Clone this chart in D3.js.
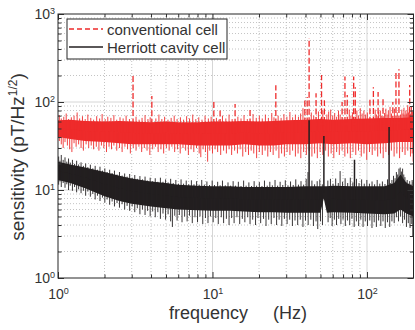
<!DOCTYPE html>
<html>
<head>
<meta charset="utf-8">
<script src="https://cdn.jsdelivr.net/npm/d3@7"></script>
<style>
  body { margin: 0; background: #fff; }
  svg { display: block; }
</style>
</head>
<body>
<svg id="chart" width="415" height="330"></svg>
<script>
"use strict";

// tick values
const xMajor = [1, 10, 100];
const xMinor = [2, 3, 4, 5, 6, 7, 8, 9, 20, 30, 40, 50, 60, 70, 80, 90];
const yMajor = [1, 10, 100, 1000];
const yMinor = [2, 3, 4, 5, 6, 7, 8, 9, 20, 30, 40, 50, 60, 70, 80, 90, 200, 300, 400, 500, 600, 700, 800, 900];

const seriesNames = ["conventional cell", "Herriott cavity cell"];

// conventional cell: dense band
const redFreq = [1, 1.2, 1.5, 2, 2.5, 3, 4, 5, 6, 8, 10, 13, 16, 20, 25, 30, 40, 50, 60, 80, 100, 130, 160, 200];
const redHigh = [62, 63, 61, 60, 61, 60, 59, 60, 59, 59, 60, 60, 61, 60, 61, 62, 63, 64, 63, 64, 65, 66, 66, 67];
const redLow = [40, 38, 36, 35, 34, 33, 33, 33, 33, 32, 32, 32, 33, 32, 32, 33, 33, 34, 33, 34, 33, 34, 35, 35];

// conventional cell: noise excursions [Hz, pT/Hz^1/2]
const redUp = [[1.02,71],[1.05,65],[1.09,68],[1.13,74],[1.17,64],[1.22,67],[1.27,70],[1.33,76],[1.38,65],[1.44,69],
  [1.5,64],[1.56,72],[1.63,66],[1.7,63],[1.78,69],[1.86,65],[1.93,73],[2.02,64],[2.1,68],[2.2,66],[2.3,71],[2.4,63],
  [2.52,67],[2.64,65],[2.76,70],[2.9,64],[3.2,68],[3.35,63],[3.5,66],[3.66,71],[3.82,64],[3.95,67],[4.3,65],[4.5,72],
  [4.7,64],[4.9,68],[5.15,63],[5.4,66],[5.65,70],[5.9,64],[6.2,67],[6.5,63],[6.8,69],[7.1,65],[7.45,72],[7.8,64],
  [8.15,67],[8.55,63],[8.95,70],[9.4,65],[9.8,68],[10.6,66],[11,63],[11.6,70],[12.2,65],[12.8,72],[13.4,64],[14.6,68],
  [15.3,65],[16,71],[16.8,64],[18.3,73],[19.2,66],[20.1,70],[21,65],[22,72],[23,66],[24.2,75],[25,67],[26.6,70],
  [27.8,66],[29,73],[30.3,68],[31.7,77],[33,67],[34.4,72],[36,68],[37.2,74],[38.5,85],[43.6,76],[45.2,70],[48.5,78],
  [51.8,80],[55,72],[56.5,78],[58.2,82],[60,70],[61.8,75],[63.6,68],[65.4,80],[67,72],[76.8,82],[78.7,70],[80.5,76],
  [86,80],[88,70],[90.5,85],[93,74],[95.5,80],[98,72],[100.5,76],[113,82],[115.5,72],[119,78],[122,80],[124.5,70],
  [130,75],[132.5,84],[135,72],[137.5,80],[141,88],[144,74],[150.5,84],[157,76],[165,72],[168,82],[171,74],[173.5,86],
  [176,72],[178.5,80],[181,74],[183.5,92],[186,76],[188,84],[191,74],[194,88],[197,78]];
const redDown = [[1.02,36],[1.05,33],[1.08,30],[1.11,35],[1.15,32],[1.19,29],[1.23,27],[1.27,34],[1.31,31],[1.36,33],
  [1.41,30],[1.46,28],[1.52,33],[1.58,30],[1.64,32],[1.7,29],[1.77,31],[1.84,28],[1.91,32],[1.98,30],[2.06,27],[2.14,31],
  [2.22,29],[2.3,32],[2.4,28],[2.5,30],[2.6,27],[2.71,31],[2.82,29],[2.94,26],[3.07,30],[3.2,28],[3.34,31],[3.48,27],
  [3.62,30],[3.77,28],[3.93,25],[4.1,29],[4.27,31],[4.45,27],[4.64,29],[4.83,26],[5.03,30],[5.24,28],[5.46,31],[5.69,27],
  [5.93,29],[6.18,26],[6.44,30],[6.7,28],[6.98,25],[7.27,29],[7.57,27],[7.88,30],[8.2,26],[8.4,23.6],[8.7,29],[9,27],
  [9.3,21],[9.6,28],[10,26],[10.4,29],[10.8,27],[11.3,25],[11.8,28],[12.3,26],[12.8,29],[13.3,25],[13.9,28],[14.5,26],
  [15.1,29],[15.7,24],[16.4,27],[17.1,25],[17.8,28],[18.5,26],[19.3,23],[20.1,27],[21,25],[21.9,28],[22.8,24],[23.7,27],
  [24.7,25],[25.8,28],[26.9,23],[28,26],[29.2,24],[30.4,27],[31.7,25],[33,28],[34.4,24],[35.8,26],[37.3,23],[38.9,27],
  [40.5,25],[42.2,28],[44,24],[45.8,26],[47.7,23],[49.7,27],[51.8,25],[54,28],[56.2,24],[58.6,26],[61,23],[63.6,27],
  [66.2,25],[69,28],[71.9,24],[74.9,26],[78,23],[81.2,27],[84.6,25],[88.1,28],[91.8,24],[95.6,26],[99.6,22],[103.8,27],
  [108.1,25],[112.6,28],[117.3,24],[122.2,26],[127.3,23],[132.6,27],[138.1,25],[143.8,28],[149.8,24],[156,26],[162.5,23],
  [169.3,27],[176.3,25],[183.6,28],[191.2,24],[196,26],[199,21]];
// conventional cell: tall lines
const redPeaks = [[3.06,203],[4.05,117],[10.2,100],[11.2,81],[14,95],[17.5,81],[25.7,155],[39.6,110],[41,114],
  [42.2,533],[46.8,126],[50.8,203],[53,105],[69,100],[72,195],[74.5,120],[82,195],[84,147],[104.5,110],[110,147],
  [118,130],[127,114],[147,100],[154,218],[161,235],[189,156]];

// Herriott cavity cell: dense band
const blackFreq = [1, 1.2, 1.5, 2, 2.5, 3, 4, 5, 6, 8, 10, 13, 16, 20, 25, 30, 40, 50, 52.5, 55, 60, 80, 100, 130, 150, 165, 180, 200];
const blackHigh = [21, 19.5, 18, 16, 14.5, 13.5, 12.5, 12, 11.5, 11.2, 11, 11, 10.8, 10.8, 10.8, 10.8, 11, 11, 11, 11, 11.2, 11, 11, 11, 12, 15, 12, 11];
const blackLow = [13, 12, 10.5, 8.5, 7.5, 7, 6.5, 6.2, 6, 5.9, 5.8, 5.8, 5.7, 5.6, 5.6, 5.5, 5.5, 5.5, 8, 5.5, 5.6, 5.5, 5.4, 5.3, 5.4, 6, 5.4, 5];

const blackUp = [[1.01,24],[1.03,21.5],[1.05,25],[1.08,22],[1.11,23.5],[1.14,21],[1.17,22.8],[1.2,20.5],[1.24,22],
  [1.28,19.8],[1.32,21.5],[1.36,19.5],[1.41,20.6],[1.46,18.8],[1.51,20],[1.56,18.2],[1.62,19.4],[1.68,17.6],[1.74,18.8],
  [1.8,17],[1.87,18.4],[1.94,16.6],[2.01,17.6],[2.08,16],[2.16,17],[2.24,15.6],[2.32,16.6],[2.41,15],[2.5,16],[2.6,14.6],
  [2.7,15.4],[2.8,14.2],[2.91,15.2],[3.02,13.8],[3.14,14.8],[3.26,13.4],[3.39,14.4],[3.52,13.2],[3.66,14.2],[3.8,12.8],
  [3.95,13.8],[4.1,12.6],[4.26,13.6],[4.43,12.4],[4.6,13.8],[4.78,12.4],[4.97,13.2],[5.16,12.2],[5.36,13.4],[5.57,12],
  [5.79,13],[6.02,11.8],[6.26,13.2],[6.5,11.8],[6.76,12.8],[7.02,11.6],[7.3,12.9],[7.59,11.6],[7.89,12.6],[8.2,11.5],
  [8.52,13],[8.86,11.5],[9.2,12.5],[9.57,11.4],[9.95,12.8],[10.3,11.4],[10.8,12.4],[11.2,11.3],[11.6,12.8],[12.1,11.3],
  [12.6,12.2],[13.1,11.2],[13.6,12.6],[14.1,11.2],[14.7,12.4],[15.3,11.1],[15.9,12.8],[16.5,11.2],[17.2,12.2],[17.9,11.1],
  [18.6,12.6],[19.3,11.2],[20.1,12.3],[20.9,11.1],[21.7,12.8],[22.6,11.2],[23.5,12.4],[24.4,11.3],[25.4,13],[26.4,11.2],
  [27.4,12.4],[28.5,11.4],[29.6,12.9],[30.8,11.3],[32,12.5],[33.3,11.4],[34.6,13.2],[36,11.5],[37.4,12.6],[38.9,11.5],
  [40.4,13.4],[41.5,16],[44,12.8],[45.8,11.6],[47.6,12.6],[49.5,13.2],[51.4,11.6],[55.8,12.8],[58,13.4],[60.3,11.8],
  [62.7,13.5],[65.2,12],[67,16.4],[69.5,12.4],[72.2,13.6],[75,12],[78,13.8],[81,12.2],[85.5,13.4],[88.8,12],[92.3,13.2],
  [96,11.8],[99.8,13],[103.7,11.8],[107.8,12.5],[112,11.6],[116.4,13],[121,11.8],[125.8,12.5],[130.7,11.7],[135.8,13.2],
  [141.5,12],[145,13],[148.5,14.5],[152,13.6],[155,16],[158,15],[161,17.5],[164,18],[167,16.2],[170,17.5],[173,15],
  [176,14],[179,12.4],[182,13],[185.5,11.8],[189,12.6],[192.5,11.6],[196,13],[199,12.4]];
const blackDown = [[1.01,11.5],[1.03,12.5],[1.05,10.8],[1.08,12],[1.11,10.6],[1.14,11.6],[1.17,10],[1.2,11.2],[1.24,9.8],
  [1.28,10.8],[1.32,9.4],[1.36,10.2],[1.41,9.2],[1.46,9.8],[1.51,8.6],[1.56,9.6],[1.62,8.4],[1.68,9],[1.74,7.8],[1.8,8.6],
  [1.87,7.5],[1.94,8.2],[2.01,7.2],[2.08,7.8],[2.16,6.8],[2.24,7.4],[2.32,6.5],[2.41,7.1],[2.5,6.3],[2.6,6.9],[2.7,6],
  [2.8,6.6],[2.91,5.8],[3.02,6.5],[3.14,5.6],[3.26,6.2],[3.39,5.3],[3.52,6],[3.66,5.2],[3.8,5.8],[3.95,5],[4.1,5.7],
  [4.26,4.9],[4.43,5.6],[4.6,4.7],[4.78,5.4],[4.97,4.6],[5.16,5.3],[5.36,4.4],[5.5,3.8],[5.7,5.1],[5.9,4.5],[6.1,5.2],
  [6.35,4.3],[6.6,5],[6.85,4.4],[7.1,5.1],[7.4,4.2],[7.7,4.9],[8,4.3],[8.3,5],[8.65,4.1],[9,4.8],[9.35,4.2],[9.7,5],
  [10.1,4.3],[10.5,4.8],[10.9,4.1],[11.4,4.9],[11.8,4.2],[12.3,4.7],[12.8,4],[13.3,4.8],[13.8,4.2],[14.4,4.9],[15,4.1],
  [15.6,4.7],[16.2,4.3],[16.9,4.9],[17.5,4.1],[18.2,4.6],[19,4],[19.7,4.8],[20.5,4.2],[21.4,4.7],[22.2,3.9],[23.1,4.6],
  [24,4.1],[25,4.8],[26,4],[27,4.6],[28.1,3.9],[29.2,4.7],[30.4,4.1],[31.6,4.6],[32.9,3.9],[34.2,4.5],[35.6,4],[37,4.6],
  [38.5,3.8],[40,4.5],[41.6,4],[43.3,4.6],[45,3.9],[46.8,4.4],[48,3.6],[50,4.4],[51.5,4],[56,4.3],[57.8,4.8],[59.5,3.9],
  [61.5,4.6],[63.5,4],[65.6,4.7],[67.8,4.1],[70,4.6],[72.4,3.9],[74.8,4.5],[77.3,4],[79.9,4.7],[82.6,3.8],[85.4,4.4],
  [88.3,3.9],[91.2,4.6],[94.3,3.8],[97.5,4.4],[100.8,3.9],[104.2,4.5],[107.7,3.7],[111.3,4.3],[115,3.8],[118.9,4.5],
  [122.9,3.9],[127,4.4],[131.3,3.7],[135.7,4.3],[140.3,3.8],[145,4.4],[150,4.2],[155,4.9],[160,4.4],[165,5],[170,4.2],
  [175,4.6],[180,3.8],[185,4.2],[190,3.7],[195,4.1],[198,3.0]];
const blackPeaks = [[42.2,62],[52.6,41],[83,22],[139,52]];

const FONT = "'Liberation Sans', Arial, Helvetica, sans-serif";
const TEXT = "#333";
const RED = "#ee2b2b";
const BLACK = "#231f20";

const svg = d3.select("#chart").attr("font-family", FONT);

const x = d3.scaleLog().domain([1, 200]).range([58, 413.5]);
const y = d3.scaleLog().domain([1, 1000]).range([278, 14]);
const [x0, x1] = x.range();
const [y0, y1] = y.range();

// grid
const grid = svg.append("g");
grid.selectAll(".gx").data(xMinor).join("line")
  .attr("x1", x).attr("x2", x).attr("y1", y0).attr("y2", y1)
  .attr("stroke", "#b5b5b5").attr("stroke-width", 0.8).attr("stroke-dasharray", "1,2");
grid.selectAll(".gy").data(yMinor).join("line")
  .attr("y1", y).attr("y2", y).attr("x1", x0).attr("x2", x1)
  .attr("stroke", "#b5b5b5").attr("stroke-width", 0.8).attr("stroke-dasharray", "1,2");
grid.selectAll(".gX").data(xMajor.slice(1)).join("line")
  .attr("x1", x).attr("x2", x).attr("y1", y0).attr("y2", y1)
  .attr("stroke", "#d6d6d6").attr("stroke-width", 1);
grid.selectAll(".gY").data(yMajor.slice(1, 3)).join("line")
  .attr("y1", y).attr("y2", y).attr("x1", x0).attr("x2", x1)
  .attr("stroke", "#d6d6d6").attr("stroke-width", 1);

svg.append("clipPath").attr("id", "plot")
  .append("rect").attr("x", x0).attr("y", y1).attr("width", x1 - x0).attr("height", y0 - y1);

const drawSeries = (freq, high, low, up, down, peaks, color, dashed, peakWidth) => {
  const g = svg.append("g").attr("clip-path", "url(#plot)");
  const band = freq.map((f, i) => ({ f, hi: high[i], lo: low[i] }));
  const mid = d3.scaleLog().domain(freq).range(freq.map((f, i) => Math.sqrt(high[i] * low[i])));

  g.append("path")
    .datum(band)
    .attr("fill", color)
    .attr("d", d3.area().x((d) => x(d.f)).y0((d) => y(d.lo)).y1((d) => y(d.hi)));

  g.selectAll(".noise").data(up.concat(down)).join("line")
    .attr("x1", (d) => x(d[0])).attr("x2", (d) => x(d[0]))
    .attr("y1", (d) => y(mid(d[0]))).attr("y2", (d) => y(d[1]))
    .attr("stroke", color).attr("stroke-width", 0.9);

  g.selectAll(".peak").data(peaks).join("line")
    .attr("x1", (d) => x(d[0])).attr("x2", (d) => x(d[0]))
    .attr("y1", (d) => y(mid(d[0]))).attr("y2", (d) => y(d[1]))
    .attr("stroke", color).attr("stroke-width", peakWidth)
    .attr("stroke-dasharray", dashed ? "6,2.5" : null);
};

drawSeries(redFreq, redHigh, redLow, redUp, redDown, redPeaks, RED, true, 1.3);
drawSeries(blackFreq, blackHigh, blackLow, blackUp, blackDown, blackPeaks, BLACK, false, 1.5);

// axes (ticks inside on all four sides)
const supLabel = (sel) => {
  sel.selectAll(".tick text").text(null).each(function (d) {
    const t = d3.select(this);
    t.append("tspan").text("10");
    t.append("tspan").attr("font-size", 9).attr("dy", "-0.6em").text(Math.round(Math.log10(d)));
  });
};

const axisGroup = (axis, transform) => {
  const g = svg.append("g").attr("transform", transform).call(axis)
    .attr("font-family", FONT).attr("font-size", 14).attr("color", TEXT);
  g.select(".domain").remove();
  return g;
};

axisGroup(d3.axisBottom(x).tickValues(xMinor).tickSize(-3.5).tickFormat(""), `translate(0,${y0})`);
axisGroup(d3.axisTop(x).tickValues(xMinor).tickSize(-3.5).tickFormat(""), `translate(0,${y1})`);
axisGroup(d3.axisLeft(y).tickValues(yMinor).tickSize(-3.5).tickFormat(""), `translate(${x0},0)`);
axisGroup(d3.axisRight(y).tickValues(yMinor).tickSize(-3.5).tickFormat(""), `translate(${x1},0)`);

axisGroup(d3.axisBottom(x).tickValues(xMajor).tickSize(-6).tickPadding(11), `translate(0,${y0})`).call(supLabel);
axisGroup(d3.axisTop(x).tickValues(xMajor).tickSize(-6).tickFormat(""), `translate(0,${y1})`);
axisGroup(d3.axisLeft(y).tickValues(yMajor).tickSize(-6).tickPadding(3), `translate(${x0},0)`).call(supLabel);
axisGroup(d3.axisRight(y).tickValues(yMajor).tickSize(-6).tickFormat(""), `translate(${x1},0)`);

svg.append("rect")
  .attr("x", x0).attr("y", y1).attr("width", x1 - x0).attr("height", y0 - y1)
  .attr("fill", "none").attr("stroke", "#262626").attr("stroke-width", 1);

// axis titles
const xTitle = svg.append("text").attr("y", 318.5).attr("font-size", 18).attr("fill", TEXT);
xTitle.append("tspan").attr("x", 169).text("frequency");
xTitle.append("tspan").attr("x", 273).text("(Hz)");

const yTitle = svg.append("text")
  .attr("transform", "translate(24,157) rotate(-90)")
  .attr("text-anchor", "middle").attr("font-size", 19).attr("fill", TEXT);
yTitle.append("tspan").text("sensitivity (pT/Hz");
yTitle.append("tspan").attr("font-size", 12).attr("dy", "-0.6em").text("1/2");
yTitle.append("tspan").attr("dy", "0.38em").text(")");

// legend
const legend = svg.append("g");
legend.append("rect").attr("x", 67).attr("y", 19).attr("width", 160).attr("height", 40)
  .attr("fill", "#fff").attr("stroke", "#262626").attr("stroke-width", 1);
const legendRows = legend.selectAll(".row").data(seriesNames).join("g")
  .attr("transform", (d, i) => `translate(69,${29 + i * 18})`);
legendRows.append("line")
  .attr("x1", 0).attr("x2", 34)
  .attr("stroke", (d, i) => (i === 0 ? RED : BLACK))
  .attr("stroke-width", (d, i) => (i === 0 ? 1.3 : 1.5))
  .attr("stroke-dasharray", (d, i) => (i === 0 ? "5,3" : null));
legendRows.append("text")
  .attr("x", 38).attr("y", 5.5)
  .attr("font-size", 15).attr("fill", TEXT)
  .text((d) => d);
</script>
</body>
</html>
